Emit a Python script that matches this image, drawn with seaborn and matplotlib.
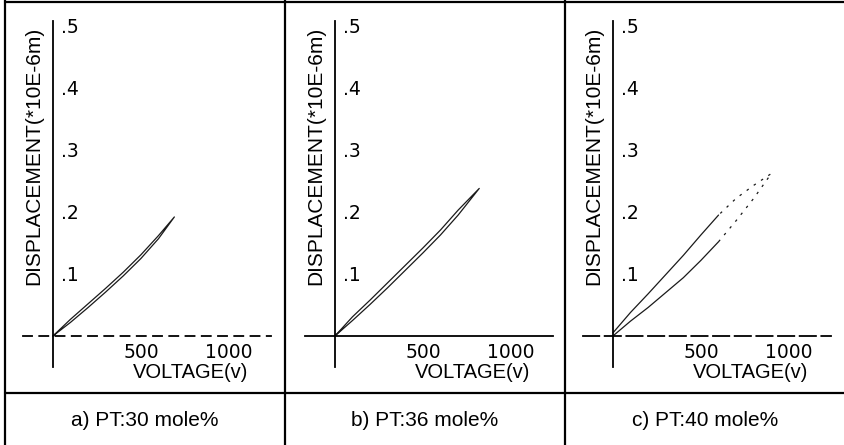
import numpy as np
import pandas as pd

import matplotlib as mpl
mpl.use('Agg')
import matplotlib.pyplot as plt
import seaborn as sns

sns.set_style('white')
plt.rcParams['font.family'] = ['Liberation Sans', 'DejaVu Sans']
plt.rcParams['text.color'] = 'black'
plt.rcParams['axes.labelcolor'] = 'black'
plt.rcParams['xtick.color'] = 'black'
plt.rcParams['ytick.color'] = 'black'

# hysteresis loops: voltage (V) vs displacement (*10E-6 m)
volt_a = [0, 100, 200, 300, 400, 500, 600, 690]
up_a = [0.0, 0.022, 0.046, 0.071, 0.097, 0.125, 0.157, 0.192]
down_a = [0.0, 0.027, 0.052, 0.077, 0.103, 0.131, 0.162, 0.192]

volt_b = [0, 100, 200, 300, 400, 500, 600, 700, 820]
up_b = [0.0, 0.025, 0.051, 0.078, 0.106, 0.134, 0.163, 0.195, 0.238]
down_b = [0.0, 0.031, 0.058, 0.086, 0.114, 0.142, 0.171, 0.203, 0.238]

volt_c = [0, 100, 200, 300, 400, 500, 600, 700, 800, 900]
up_c = [0.0, 0.024, 0.046, 0.070, 0.094, 0.122, 0.152, 0.186, 0.222, 0.262]
down_c = [0.005, 0.038, 0.068, 0.099, 0.130, 0.163, 0.195, 0.222, 0.243, 0.262]

captions = ['a) PT:30 mole%', 'b) PT:36 mole%', 'c) PT:40 mole%']
x_ticks = [500, 1000]
x_minor = [250, 750]
y_ticks = [0.1, 0.2, 0.3, 0.4, 0.5]
y_ticklabels = ['.1', '.2', '.3', '.4', '.5']
x_label = 'VOLTAGE(v)'
y_label = 'DISPLACEMENT(*10E-6m)'

loops = [(volt_a, up_a, down_a), (volt_b, up_b, down_b),
         (volt_c, up_c, down_c)]
faint_from = [None, None, 600]
x_dash = [(0, (5, 4)), 'solid', (0, (9, 3))]

W, H = 844, 445
fig = plt.figure(figsize=(W / 100, H / 100), dpi=100)

# frame of the table around the three panels
frame = fig.add_axes([0, 0, 1, 1])
frame.set_xlim(0, W)
frame.set_ylim(H, 0)
frame.axis('off')
for xv in [5, 285, 565]:
    frame.axvline(xv, color='black', lw=1.6)
frame.axhline(2, xmin=5 / W, color='black', lw=1.6)
frame.axhline(393, xmin=5 / W, color='black', lw=1.6)

origins = [53, 335, 613]
org_y, top_y, bot_y = 336, 21, 367
left_off, right_off = 30, 218
xlim = (-170, 1239)
ylim = (-0.05, 0.508)

for i, ((volt, up, down), org_x) in enumerate(zip(loops, origins)):
    ax = fig.add_axes([(org_x - left_off) / W, (H - bot_y) / H,
                       (left_off + right_off) / W, (bot_y - top_y) / H])
    ax.patch.set_alpha(0)

    path = pd.DataFrame({
        'volt': list(volt) + list(volt[::-1]),
        'disp': list(up) + list(down[::-1]),
        })

    if faint_from[i] is None:
        sns.lineplot(data=path, x='volt', y='disp', ax=ax, sort=False,
                     estimator=None, color='#1a1a1a', lw=0.9)
    else:
        n = len(volt)
        cut = volt.index(faint_from[i])
        solid_up = path.iloc[:cut + 1]
        solid_down = path.iloc[2 * n - cut - 1:]
        faint = path.iloc[cut:2 * n - cut]
        for part in [solid_up, solid_down]:
            sns.lineplot(data=part, x='volt', y='disp', ax=ax, sort=False,
                         estimator=None, color='#1a1a1a', lw=0.9)
        sns.lineplot(data=faint, x='volt', y='disp', ax=ax, sort=False,
                     estimator=None, color='#1a1a1a', lw=0.9,
                     linestyle=(0, (2, 5)))

    ax.set_xlim(*xlim)
    ax.set_ylim(*ylim)

    for side in ['top', 'left']:
        ax.spines[side].set_visible(False)
    ax.spines['right'].set_position(('data', 0))
    ax.spines['bottom'].set_position(('data', 0))
    ax.spines['right'].set_linewidth(1.3)
    ax.spines['bottom'].set_linewidth(1.3)
    ax.spines['bottom'].set_linestyle(x_dash[i])
    ax.spines['right'].set_color('black')
    ax.spines['bottom'].set_color('black')

    ax.yaxis.set_ticks_position('right')
    ax.set_yticks(y_ticks)
    ax.set_yticklabels(y_ticklabels, family='DejaVu Sans', fontsize=13.5)
    ax.tick_params(axis='y', length=0, pad=6)

    ax.set_xticks(x_ticks)
    ax.set_xticks(x_minor, minor=True)
    ax.set_xticklabels([str(t) for t in x_ticks], family='DejaVu Sans',
                       fontsize=13.5)
    ax.tick_params(axis='x', which='both', direction='inout', length=4,
                   width=1.1, color='black', pad=3)

    ax.set_xlabel(x_label, fontsize=14.5)
    ax.xaxis.set_label_coords((org_x + 138 - (org_x - left_off))
                              / (left_off + right_off), 0.012)
    ax.set_ylabel(y_label, fontsize=15)
    ax.yaxis.set_label_position('left')
    ax.yaxis.label.set_horizontalalignment('center')
    ax.yaxis.label.set_verticalalignment('center')
    ax.yaxis.label.set_rotation(90)
    ax.yaxis.set_label_coords(
        (left_off - 19) / (left_off + right_off),
        (bot_y - 156) / (bot_y - top_y))

for cx, cap in zip([145, 425, 705], captions):
    frame.text(cx, 421, cap, ha='center', va='center', fontsize=15)

fig.savefig('out.png', dpi=100)
plt.close()
